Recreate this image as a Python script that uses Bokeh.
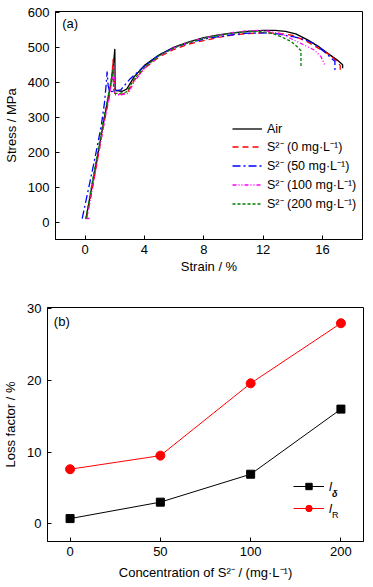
from bokeh.plotting import figure
from bokeh.models import Range1d, FixedTicker, Legend, LegendItem, Label
from bokeh.embed import file_html
from bokeh.resources import INLINE

FONT = "Liberation Sans"

# ---------------- (a) stress-strain curves ----------------
air_strain = [0.05, 0.4, 0.8, 1.2, 1.5, 1.75, 1.95, 2.0, 2.02, 2.1, 2.5, 2.8, 3.3, 4.0, 5.0, 6.0, 7.0, 8.0,
              9.0, 10.0, 11.0, 12.0, 12.8, 13.5, 14.2, 15.0, 15.8, 16.5, 17.0, 17.36, 17.36]
air_stress = [8, 90, 180, 275, 345, 400, 470, 495, 380, 376, 374, 380, 415, 448, 478, 500, 515, 527,
              535, 541, 545, 548, 548, 545, 538, 521, 500, 478, 463, 450, 440]

s0_strain = [0.1, 0.5, 0.9, 1.3, 1.6, 1.8, 1.88, 1.92, 2.0, 2.5, 2.85, 3.3, 4.0, 5.0, 6.0, 7.0, 8.0, 9.0,
             10.0, 11.0, 12.0, 13.0, 14.0, 15.0, 15.8, 16.5, 17.0, 17.2, 17.2]
s0_stress = [10, 100, 195, 290, 350, 410, 465, 420, 366, 366, 370, 405, 440, 472, 494, 509, 519, 528,
             535, 539, 541, 540, 534, 515, 495, 478, 458, 447, 430]

s50_strain = [-0.2, 0.0, 0.3, 0.6, 0.9, 1.1, 1.3, 1.42, 1.48, 1.55, 1.65, 2.0, 2.4, 3.0, 4.0, 5.0, 6.0,
              7.0, 8.0, 9.0, 10.0, 11.0, 12.0, 13.0, 14.0, 14.7, 15.4, 16.1, 16.6, 16.84, 16.84]
s50_stress = [10, 50, 110, 170, 235, 280, 340, 395, 430, 390, 372, 375, 378, 408, 446, 478, 499,
              513, 523, 530, 536, 540, 541, 538, 530, 523, 511, 488, 468, 460, 435]

s100_strain = [0.3, 0.1, 0.4, 0.8, 1.2, 1.55, 1.8, 1.92, 1.96, 2.0, 2.5, 2.9, 3.3, 4.0, 5.0, 6.0, 7.0,
               8.0, 9.0, 10.0, 11.0, 11.8, 12.5, 13.2, 14.1, 15.0, 15.45, 15.9, 16.18]
s100_stress = [10, 10, 75, 170, 265, 345, 400, 445, 400, 364, 364, 368, 400, 440, 475, 498, 514,
               526, 535, 542, 547, 548, 545, 538, 520, 501, 492, 473, 447]

s200_strain = [0.05, 0.4, 0.8, 1.2, 1.5, 1.75, 1.85, 1.9, 1.95, 2.3, 2.8, 3.3, 4.0, 5.0, 6.0, 7.0, 8.0,
               9.0, 10.0, 11.0, 12.0, 12.7, 13.2, 13.9, 14.3, 14.55, 14.55]
s200_stress = [10, 95, 190, 285, 350, 405, 435, 400, 368, 368, 372, 408, 443, 476, 498, 514, 525,
               534, 541, 545, 544, 538, 530, 516, 501, 490, 444]

curve_labels = ["Air", "S\u00b2\u207b (0 mg\u00b7L\u207b\u00b9)", "S\u00b2\u207b (50 mg\u00b7L\u207b\u00b9)",
                "S\u00b2\u207b (100 mg\u00b7L\u207b\u00b9)", "S\u00b2\u207b (200 mg\u00b7L\u207b\u00b9)"]
strain_ticks = [0, 4, 8, 12, 16]
stress_ticks = [0, 100, 200, 300, 400, 500, 600]

# ---------------- (b) loss factors ----------------
conc_labels = ["0", "50", "100", "200"]
l_delta = [0.7, 3.0, 6.9, 16.0]
l_R = [7.6, 9.5, 19.6, 28.0]
loss_ticks = [0, 10, 20, 30]


def style(p):
    p.outline_line_color = "black"
    p.outline_line_width = 1
    p.outline_line_alpha = 1
    p.xgrid.visible = False
    p.ygrid.visible = False
    p.background_fill_color = "white"
    p.border_fill_color = "white"
    for ax in (p.xaxis[0], p.yaxis[0]):
        ax.axis_line_color = "black"
        ax.major_tick_line_color = "black"
        ax.major_tick_in = 4
        ax.major_tick_out = 0
        ax.minor_tick_line_color = None
        ax.major_label_text_font = FONT
        ax.major_label_text_font_size = "13px"
        ax.major_label_text_color = "black"
        ax.axis_label_text_font = FONT
        ax.axis_label_text_font_size = "13px"
        ax.axis_label_text_font_style = "normal"
        ax.axis_label_text_color = "black"
        ax.major_label_standoff = 6
    p.xaxis.major_label_standoff = 5


# ---- figure (a)
pa = figure(width=373, height=292, output_backend="svg", toolbar_location=None,
            x_range=Range1d(-2, 18.7), y_range=Range1d(-50, 602),
            min_border_left=55, min_border_right=11, min_border_top=11, min_border_bottom=53)
style(pa)
pa.xaxis.ticker = FixedTicker(ticks=strain_ticks)
pa.yaxis.ticker = FixedTicker(ticks=stress_ticks)
pa.xaxis.axis_label = "Strain / %"
pa.yaxis.axis_label = "Stress / MPa"
pa.xaxis.axis_label_standoff = 2
pa.yaxis.axis_label_standoff = 6

series = [
    (air_strain, air_stress, "black", "solid"),
    (s0_strain, s0_stress, "#ff0000", "6 4"),
    (s50_strain, s50_stress, "#0000ff", "8 3 2 3"),
    (s100_strain, s100_stress, "#ff00ff", "4 2 1 2 1 2"),
    (s200_strain, s200_stress, "#008000", "3 2"),
]
items = []
for (xs, ys, col, dash), lab in zip(series, curve_labels):
    r = pa.line(xs, ys, line_color=col, line_width=1.3, line_dash=dash)
    items.append(LegendItem(label=lab, renderers=[r]))

leg_a = Legend(items=items, location=(177, 27), padding=0, margin=0, spacing=2,
               glyph_width=30, glyph_height=15, label_height=15, label_standoff=5,
               label_text_font=FONT, label_text_font_size="12.5px", label_text_color="black",
               border_line_alpha=0, background_fill_alpha=0)
pa.add_layout(leg_a, "center")
pa.add_layout(Label(x=-1.55, y=568, text="(a)", text_font=FONT, text_font_size="13px",
                    text_baseline="middle", text_color="black"))

# ---- figure (b)
xpos = list(range(len(conc_labels)))
pb = figure(width=373, height=295, output_backend="svg", toolbar_location=None,
            x_range=Range1d(-0.25, 3.25), y_range=Range1d(-2.5, 30.2),
            min_border_left=47, min_border_right=10, min_border_top=15, min_border_bottom=46)
style(pb)
pb.xaxis.ticker = FixedTicker(ticks=xpos)
pb.xaxis.major_label_overrides = {i: s for i, s in zip(xpos, conc_labels)}
pb.yaxis.ticker = FixedTicker(ticks=loss_ticks)
pb.xaxis.axis_label = "Concentration of S\u00b2\u207b / (mg\u00b7L\u207b\u00b9)"
pb.yaxis.axis_label = "Loss factor / %"
pb.xaxis.axis_label_standoff = 6
pb.yaxis.axis_label_standoff = 6

ld_line = pb.line(xpos, l_delta, line_color="black", line_width=1)
ld_pts = pb.scatter(xpos, l_delta, marker="square", size=8, fill_color="black", line_color="black")
lr_line = pb.line(xpos, l_R, line_color="#ff0000", line_width=1)
lr_pts = pb.scatter(xpos, l_R, marker="circle", size=9, fill_color="#ff0000", line_color="#ff0000")

leg_b = Legend(items=[LegendItem(label="l", renderers=[ld_line, ld_pts]),
                      LegendItem(label="l", renderers=[lr_line, lr_pts])],
               location=(246, 25), padding=0, margin=0, spacing=6,
               glyph_width=31, glyph_height=16, label_height=16, label_standoff=5,
               label_text_font=FONT, label_text_font_size="13px", label_text_font_style="italic",
               label_text_color="black", border_line_alpha=0, background_fill_alpha=0)
pb.add_layout(leg_b, "center")
pb.add_layout(Label(x=2.9, y=4.07, text="\u03b4", text_font=FONT, text_font_size="9px",
                    text_font_style="bold italic", text_baseline="middle", text_color="black"))
pb.add_layout(Label(x=2.9, y=1.27, text="R", text_font=FONT, text_font_size="9px",
                    text_baseline="middle", text_color="black"))
pb.add_layout(Label(x=-0.18, y=28.2, text="(b)", text_font=FONT, text_font_size="13px",
                    text_baseline="middle", text_color="black"))

open("out.html", "w").write(file_html([pa, pb], INLINE))
